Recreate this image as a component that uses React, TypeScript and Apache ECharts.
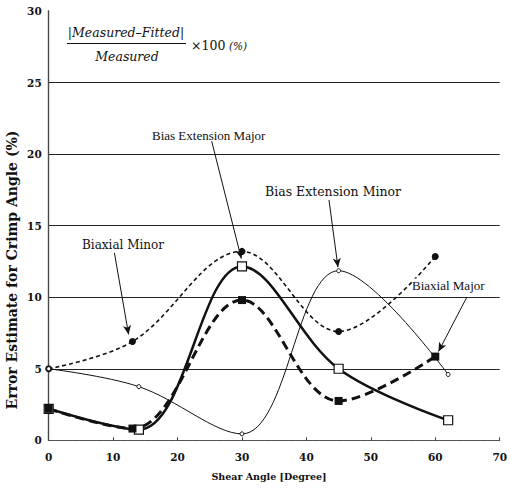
import React, { useEffect, useRef } from "react";
import * as echarts from "echarts";

const biaxialMinor: [number, number][] = [[0, 5.0], [13, 6.9], [30, 13.2], [45, 7.6], [60, 12.85]];
const biasExtMajor: [number, number][] = [[0, 2.2], [14, 0.75], [30, 12.15], [45, 5.0], [62, 1.4]];
const biaxialMajor: [number, number][] = [[0, 2.2], [13, 0.82], [30, 9.8], [45, 2.75], [60, 5.85]];
const biasExtMinor: [number, number][] = [[0, 5.0], [14, 3.75], [30, 0.45], [45, 11.85], [62, 4.6]];

const xTicks = [0, 10, 20, 30, 40, 50, 60, 70];
const yTicks = [0, 5, 10, 15, 20, 25, 30];

// arrow annotations in data coordinates: [from, to]
const arrows: [[number, number], [number, number]][] = [
  [[25.3, 20.9], [29.9, 12.7]],
  [[43.5, 16.8], [44.9, 12.1]],
  [[10.2, 13.1], [12.4, 7.4]],
  [[64.9, 10.0], [60.5, 6.2]],
];

export default function App() {
  const ref = useRef<HTMLDivElement>(null);
  useEffect(() => {
    if (!ref.current) return;
    const chart = echarts.init(ref.current, null, { renderer: "svg" });
    const serif = "DejaVu Serif";
    const times = "Liberation Serif";
    const sm = 0.36;
    chart.setOption({
      animation: false,
      backgroundColor: "#fff",
      grid: { left: 48.7, right: 7, top: 11, bottom: 48.7, containLabel: false },
      xAxis: [
        {
          type: "value",
          min: xTicks[0],
          max: xTicks[xTicks.length - 1],
          interval: 10,
          axisLine: { show: true, lineStyle: { color: "#444", width: 1, type: [2, 1] } },
          axisTick: { show: true, length: 3, inside: true, lineStyle: { color: "#444" } },
          splitLine: { show: false },
          axisLabel: { color: "#111", fontFamily: serif, fontWeight: "bold", fontSize: 10.5, margin: 11 },
        },
        {
          type: "value",
          position: "top",
          min: 0,
          max: 70,
          axisLine: { show: true, lineStyle: { color: "#555", width: 1, type: [1, 1] } },
          axisTick: { show: false },
          axisLabel: { show: false },
          splitLine: { show: false },
        },
      ],
      yAxis: [
        {
          type: "value",
          min: yTicks[0],
          max: yTicks[yTicks.length - 1],
          interval: 5,
          axisLine: { show: true, lineStyle: { color: "#111", width: 1.3 } },
          axisTick: { show: false },
          splitLine: { show: true, showMinLine: false, showMaxLine: false, lineStyle: { color: "#222", width: 1 } },
          axisLabel: { color: "#111", fontFamily: serif, fontWeight: "bold", fontSize: 10.5, margin: 7 },
        },
        {
          type: "value",
          position: "right",
          min: 0,
          max: 30,
          axisLine: { show: true, lineStyle: { color: "#555", width: 1, type: [1, 1] } },
          axisTick: { show: false },
          axisLabel: { show: false },
          splitLine: { show: false },
        },
      ],
      series: [
        {
          name: "Biaxial Minor",
          type: "line",
          smooth: sm,
          data: biaxialMinor,
          symbol: "circle",
          symbolSize: 7,
          itemStyle: { color: "#111" },
          lineStyle: { color: "#111", width: 1.6, type: [4, 3] },
        },
        {
          name: "Bias Extension Major",
          type: "line",
          smooth: sm,
          data: biasExtMajor,
          symbol: "rect",
          symbolSize: 9,
          itemStyle: { color: "#fff", borderColor: "#111", borderWidth: 1.2 },
          lineStyle: { color: "#111", width: 2.5 },
          z: 3,
        },
        {
          name: "Biaxial Major",
          type: "line",
          smooth: sm,
          data: biaxialMajor,
          symbol: "rect",
          symbolSize: 8,
          itemStyle: { color: "#111" },
          lineStyle: { color: "#111", width: 3, type: [9, 5] },
        },
        {
          name: "Bias Extension Minor",
          type: "line",
          smooth: sm,
          data: biasExtMinor,
          symbol: "circle",
          symbolSize: 4,
          itemStyle: { color: "#fff", borderColor: "#111", borderWidth: 1 },
          lineStyle: { color: "#111", width: 1 },
          markLine: {
            silent: true,
            symbol: ["none", "arrow"],
            symbolSize: [6, 9],
            label: { show: false },
            lineStyle: { color: "#111", width: 1, type: "solid" },
            data: arrows.map(([a, b]) => [{ coord: a }, { coord: b }]),
          },
        },
      ],
      graphic: [
        {
          type: "text",
          x: 12,
          y: 270,
          rotation: Math.PI / 2,
          style: {
            text: "Error Estimate for Crimp Angle (%)",
            fontFamily: serif,
            fontWeight: "bold",
            fontSize: 14,
            fill: "#111",
            textAlign: "center",
            textVerticalAlign: "middle",
          },
        },
        {
          type: "text",
          x: 269,
          y: 476,
          style: {
            text: "Shear Angle [Degree]",
            fontFamily: serif,
            fontWeight: "bold",
            fontSize: 9.5,
            fill: "#111",
            textAlign: "center",
            textVerticalAlign: "middle",
          },
        },
        {
          type: "text",
          x: 126,
          y: 32,
          style: {
            text: "|Measured\u2013Fitted|",
            fontFamily: serif,
            fontStyle: "italic",
            fontSize: 12.5,
            fill: "#111",
            textAlign: "center",
            textVerticalAlign: "middle",
          },
        },
        {
          type: "line",
          shape: { x1: 67, y1: 43.5, x2: 186, y2: 43.5 },
          style: { stroke: "#111", lineWidth: 1 },
        },
        {
          type: "text",
          x: 127,
          y: 56,
          style: {
            text: "Measured",
            fontFamily: serif,
            fontStyle: "italic",
            fontSize: 12.5,
            fill: "#111",
            textAlign: "center",
            textVerticalAlign: "middle",
          },
        },
        {
          type: "text",
          x: 191,
          y: 45,
          style: {
            text: "\u00d7100",
            fontFamily: serif,
            fontSize: 12.5,
            fill: "#111",
            textAlign: "left",
            textVerticalAlign: "middle",
          },
        },
        {
          type: "text",
          x: 229,
          y: 46,
          style: {
            text: "(%)",
            fontFamily: serif,
            fontStyle: "italic",
            fontSize: 10.5,
            fill: "#111",
            textAlign: "left",
            textVerticalAlign: "middle",
          },
        },
        {
          type: "text",
          x: 152,
          y: 135,
          style: {
            text: "Bias Extension Major",
            fontFamily: times,
            fontSize: 13,
            fill: "#111",
            textAlign: "left",
            textVerticalAlign: "middle",
          },
        },
        {
          type: "text",
          x: 265,
          y: 191,
          style: {
            text: "Bias Extension Minor",
            fontFamily: serif,
            fontSize: 12.5,
            fill: "#111",
            textAlign: "left",
            textVerticalAlign: "middle",
          },
        },
        {
          type: "text",
          x: 82,
          y: 245,
          style: {
            text: "Biaxial Minor",
            fontFamily: serif,
            fontSize: 12,
            fill: "#111",
            textAlign: "left",
            textVerticalAlign: "middle",
          },
        },
        {
          type: "text",
          x: 412,
          y: 285,
          z: 10,
          style: {
            text: "Biaxial Major",
            fontFamily: times,
            fontSize: 13,
            fill: "#111",
            backgroundColor: "#fff",
            textAlign: "left",
            textVerticalAlign: "middle",
          },
        },
      ],
    });
    return () => chart.dispose();
  }, []);
  return (
    <div
      ref={ref}
      style={{ position: "absolute", left: 0, top: 0, width: 510, height: 489 }}
    />
  );
}
